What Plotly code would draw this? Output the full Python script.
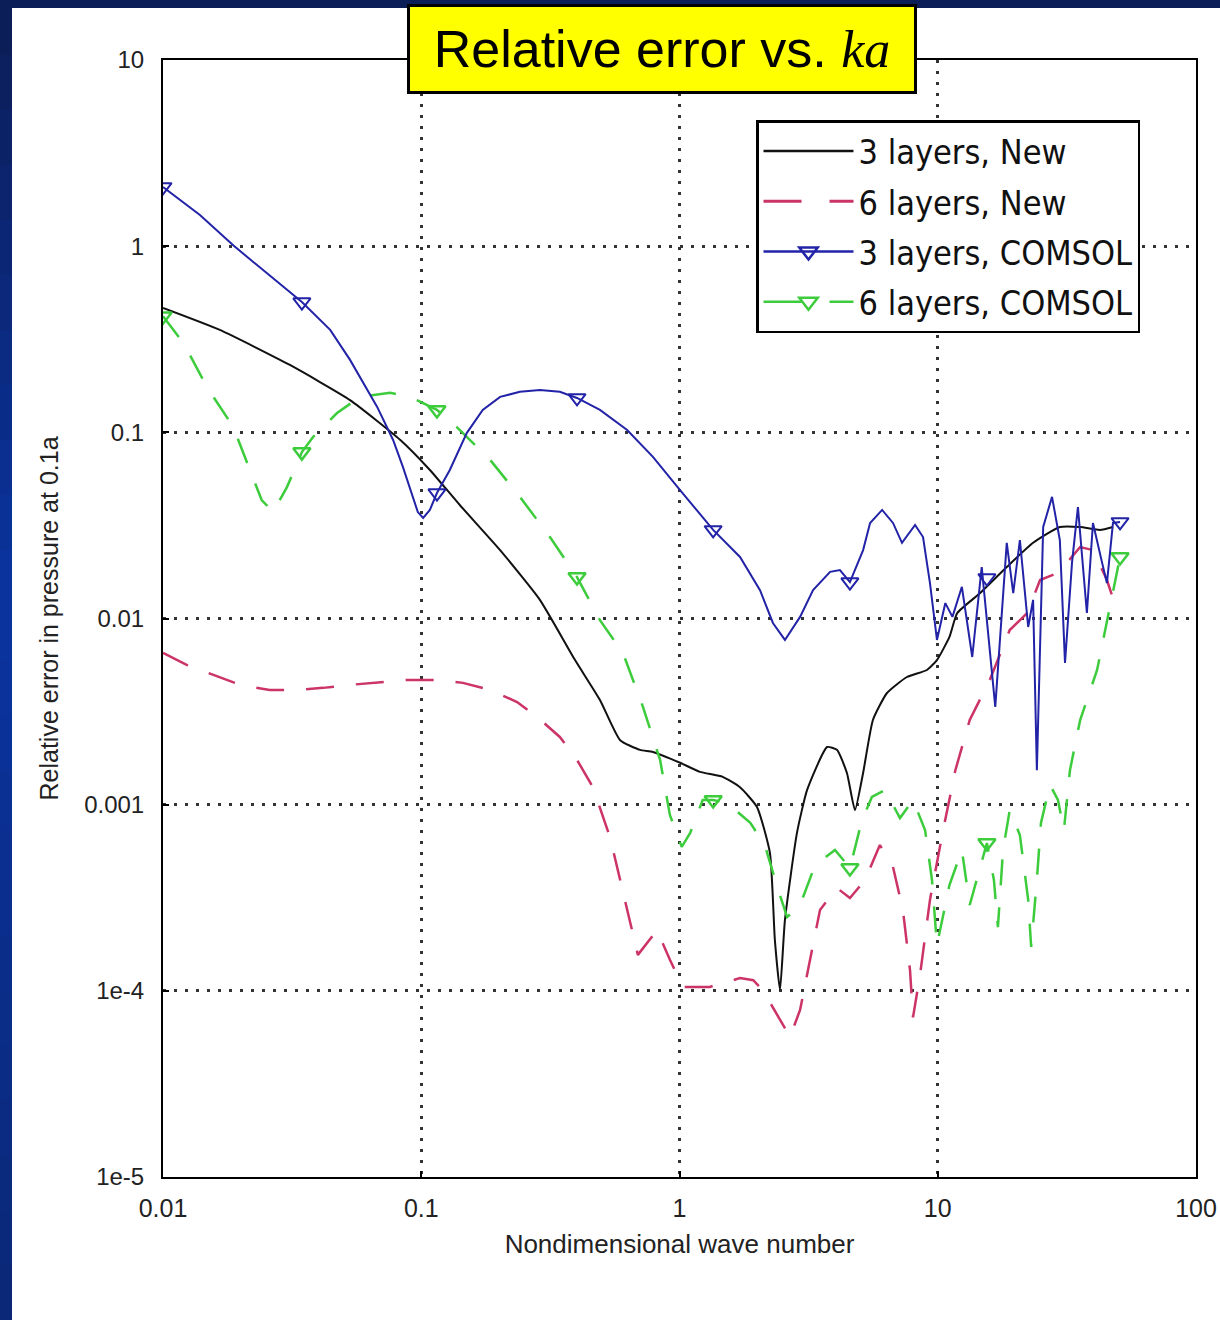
import plotly.graph_objects as go

# ---------------- data ----------------
black_x = [0.01, 0.0166, 0.031, 0.053, 0.083, 0.108, 0.141, 0.202, 0.288, 0.394, 0.492, 0.589, 0.703, 0.789,
           1.005, 1.2, 1.47, 1.715, 1.995, 2.24, 2.34, 2.45, 2.56, 2.85, 3.12, 3.73, 4.07, 4.45, 4.78, 5.14,
           5.61, 6.36, 7.6, 9.08, 9.93, 11.1, 11.9, 14.6, 18.5, 23.4, 29.7, 35.6, 42.5, 47.7]
black_y = [0.466, 0.355, 0.230, 0.149, 0.091, 0.0628, 0.0407, 0.0233, 0.0126, 0.00598, 0.00365, 0.00222,
           0.00197, 0.00192, 0.00168, 0.00150, 0.00141, 0.00124, 0.000972, 0.00055, 0.000188, 0.000101,
           0.00024, 0.000705, 0.0012, 0.00204, 0.00197, 0.00148, 0.000935, 0.00148, 0.00285, 0.00398,
           0.00485, 0.00529, 0.00598, 0.00796, 0.0107, 0.0137, 0.0189, 0.0255, 0.031, 0.031, 0.0299, 0.031]

red_x = [0.01, 0.0124, 0.0199, 0.0259, 0.033, 0.0417, 0.053, 0.0711, 0.0881, 0.115, 0.145, 0.185, 0.235,
         0.281, 0.344, 0.401, 0.462, 0.538, 0.615, 0.69, 0.818, 0.918, 1.03, 1.31, 1.715, 1.93, 2.10, 2.39,
         2.68, 2.93, 3.26, 3.50, 4.07, 4.57, 5.23, 5.97, 6.71, 7.33, 7.81, 8.02, 8.54, 9.33, 10.4, 11.7,
         13.3, 15.9, 19.0, 22.2, 24.9, 29.0, 31.6, 35.6, 39.9, 45.2, 49.4]
red_y = [0.00653, 0.00562, 0.0044, 0.00413, 0.00413, 0.00424, 0.0044, 0.00456, 0.00468, 0.00468, 0.00451,
         0.00413, 0.00356, 0.00296, 0.00231, 0.00174, 0.00124, 0.00067, 0.000308, 0.000156, 0.000212,
         0.000147, 0.000105, 0.000105, 0.000117, 0.000114, 0.000101, 7.4e-5, 5.65e-5, 7.9e-5, 0.000166,
         0.000272, 0.000357, 0.000315, 0.000394, 0.000607, 0.000463, 0.000272, 0.000129, 7.2e-5, 0.000122,
         0.000308, 0.000687, 0.00153, 0.00285, 0.00468, 0.00867, 0.0107, 0.0161, 0.0175, 0.0199, 0.0242,
         0.0233, 0.0161, 0.0111]

blue_x = [0.01, 0.0139, 0.0187, 0.0248, 0.0345, 0.0444, 0.053, 0.0675, 0.0778, 0.0849, 0.092, 0.097, 0.1017,
          0.108, 0.115, 0.129, 0.150, 0.173, 0.202, 0.241, 0.288, 0.344, 0.401, 0.492, 0.627, 0.789, 1.005,
          1.35, 1.715, 2.05, 2.30, 2.56, 2.93, 3.29, 3.83, 4.18, 4.57, 5.14, 5.47, 6.09, 6.71, 7.27, 8.17,
          8.77, 9.33, 9.93, 10.7, 11.4, 12.4, 13.6, 14.8, 16.7, 18.5, 19.6, 20.8, 22.4, 23.4, 24.2, 25.6,
          27.7, 29.7, 31.1, 33.1, 34.9, 37.8, 39.9, 43.3, 45.2, 47.7, 50.8]
blue_y = [2.08, 1.47, 1.01, 0.727, 0.501, 0.355, 0.245, 0.137, 0.091, 0.0652, 0.046, 0.0373, 0.0347, 0.0383,
          0.0472, 0.0628, 0.0991, 0.132, 0.155, 0.165, 0.169, 0.165, 0.153, 0.132, 0.103, 0.0738, 0.049,
          0.0299, 0.0214, 0.0142, 0.00946, 0.00767, 0.0102, 0.0142, 0.0178, 0.0182, 0.0157, 0.0233, 0.0326,
          0.0383, 0.0326, 0.0255, 0.0318, 0.0274, 0.0155, 0.00767, 0.0121, 0.0102, 0.0148, 0.00621, 0.0189,
          0.00335, 0.0255, 0.0137, 0.0264, 0.009, 0.0126, 0.00153, 0.031, 0.045, 0.0264, 0.00577, 0.0199,
          0.0397, 0.0107, 0.0326, 0.0199, 0.0155, 0.0326, 0.033]

green_x = [0.01, 0.012, 0.0148, 0.0187, 0.0217, 0.0241, 0.0267, 0.0302, 0.0345, 0.0381, 0.0472, 0.0579,
           0.0757, 0.0904, 0.115, 0.137, 0.185, 0.241, 0.315, 0.401, 0.492, 0.604, 0.722, 0.841, 0.918, 1.02,
           1.10, 1.23, 1.35, 1.53, 1.88, 2.14, 2.39, 2.61, 2.93, 3.35, 4.00, 4.57, 5.09, 5.56, 6.25, 7.14,
           8.02, 8.93, 9.50, 9.93, 11.1, 12.4, 13.3, 14.3, 15.5, 16.5, 17.1, 17.9, 19.0, 20.8, 22.4, 23.0,
           24.2, 25.1, 27.2, 29.2, 30.8, 32.5, 35.6, 41.4, 45.6, 50.8]
green_y = [0.42, 0.302, 0.175, 0.107, 0.0628, 0.0433, 0.0373, 0.0508, 0.0783, 0.0944, 0.127, 0.155, 0.163,
           0.155, 0.132, 0.107, 0.071, 0.045, 0.0274, 0.0167, 0.0098, 0.00653, 0.00335, 0.00174, 0.00088,
           0.000593, 0.000705, 0.00106, 0.00106, 0.00102, 0.000798, 0.000607, 0.000361, 0.000249, 0.000289,
           0.000474, 0.000571, 0.000457, 0.000828, 0.0011, 0.0012, 0.000847, 0.00106, 0.000731, 0.000394,
           0.000176, 0.00037, 0.000571, 0.000289, 0.000419, 0.000622, 0.000394, 0.00022, 0.000571, 0.000935,
           0.000687, 0.000308, 0.000172, 0.000394, 0.000798, 0.00128, 0.00106, 0.000731, 0.00153, 0.00285,
           0.00529, 0.0104, 0.0214]

marker_x = [0.01, 0.0345, 0.115, 0.401, 1.35, 4.57, 15.5, 50.8]
blue_marker_y = [2.08, 0.501, 0.0472, 0.153, 0.0299, 0.0157, 0.0165, 0.033]
green_marker_y = [0.42, 0.0783, 0.132, 0.0167, 0.00106, 0.000457, 0.000622, 0.0214]

series_names = ["3 layers, New", "6 layers, New", "3 layers, COMSOL", "6 layers, COMSOL"]
x_tickvals = [0.01, 0.1, 1, 10, 100]
x_ticktext = ["0.01", "0.1", "1", "10", "100"]
y_tickvals = [1e-5, 1e-4, 1e-3, 1e-2, 1e-1, 1, 10]
y_ticktext = ["1e-5", "1e-4", "0.001", "0.01", "0.1", "1", "10"]

# ---------------- styles ----------------
BLACK = "#111111"
RED = "#cc3366"
BLUE = "#2323a8"
GREEN = "#3ccc3c"
RED_DASH = "28px,22px"
GREEN_DASH = "26px,22px"

W, H = 1220, 1320
ML, MR, MT, MB = 163, 24, 60, 143
PW, PH = W - ML - MR, H - MT - MB


def px2x(px):
    return (px - ML) / PW


def px2y(py):
    return (H - MB - py) / PH


fig = go.Figure()

# curves
fig.add_trace(go.Scatter(x=black_x, y=black_y, mode="lines", showlegend=False,
                         line=dict(color=BLACK, width=2, shape="spline", smoothing=0.5)))
fig.add_trace(go.Scatter(x=red_x, y=red_y, mode="lines", showlegend=False,
                         line=dict(color=RED, width=2.5, dash=RED_DASH)))
fig.add_trace(go.Scatter(x=green_x, y=green_y, mode="lines", showlegend=False,
                         line=dict(color=GREEN, width=2.5, dash=GREEN_DASH)))
fig.add_trace(go.Scatter(x=marker_x, y=green_marker_y, mode="markers", showlegend=False,
                         marker=dict(symbol="triangle-down-open", size=15, color=GREEN, line=dict(width=2.5))))
fig.add_trace(go.Scatter(x=blue_x, y=blue_y, mode="lines", showlegend=False,
                         line=dict(color=BLUE, width=2)))
fig.add_trace(go.Scatter(x=marker_x, y=blue_marker_y, mode="markers", showlegend=False,
                         marker=dict(symbol="triangle-down-open", size=15, color=BLUE, line=dict(width=2))))

# legend entries
legend_specs = [
    dict(mode="lines", line=dict(color=BLACK, width=2.5)),
    dict(mode="lines", line=dict(color=RED, width=3, dash="38px,28px")),
    dict(mode="lines+markers", line=dict(color=BLUE, width=2.5),
         marker=dict(symbol="triangle-down-open", size=18, color=BLUE, line=dict(width=2.5))),
    dict(mode="lines+markers", line=dict(color=GREEN, width=2.5, dash="38px,28px"),
         marker=dict(symbol="triangle-down-open", size=18, color=GREEN, line=dict(width=2.5))),
]
for i, (name, spec) in enumerate(zip(series_names, legend_specs)):
    fig.add_trace(go.Scatter(x=[None], y=[None], name=name, legendgroup=f"g{i}", showlegend=True, **spec))

# background: blue frame on the left and top
shapes = []
n_seg = 24
top_c = (13, 29, 85)
mid_c = (10, 52, 160)
bot_c = (11, 40, 118)
for k in range(n_seg):
    t = (k + 0.5) / n_seg
    if t < 0.45:
        f = t / 0.45
        c = [int(top_c[j] + (mid_c[j] - top_c[j]) * f) for j in range(3)]
    else:
        f = (t - 0.45) / 0.55
        c = [int(mid_c[j] + (bot_c[j] - mid_c[j]) * f) for j in range(3)]
    y0 = H * k / n_seg
    y1 = H * (k + 1) / n_seg + 1
    shapes.append(dict(type="rect", xref="paper", yref="paper", layer="below",
                       x0=px2x(0), x1=px2x(12), y0=px2y(y1), y1=px2y(y0),
                       fillcolor="rgb(%d,%d,%d)" % tuple(c), line=dict(width=0)))
shapes.append(dict(type="rect", xref="paper", yref="paper", layer="below",
                   x0=px2x(0), x1=px2x(W), y0=px2y(8), y1=px2y(0),
                   fillcolor="rgb(12,30,88)", line=dict(width=0)))

fig.update_layout(
    width=W, height=H,
    margin=dict(l=ML, r=MR, t=MT, b=MB, autoexpand=False),
    paper_bgcolor="white", plot_bgcolor="white",
    font=dict(family="Liberation Sans, Arial, sans-serif", color="#222222"),
    shapes=shapes,
    legend=dict(x=px2x(756), y=px2y(120), xanchor="left", yanchor="top",
                bgcolor="white", bordercolor="black", borderwidth=2.5,
                font=dict(family="DejaVu Sans Condensed, Liberation Sans Narrow, Liberation Sans", size=34,
                          color="#111111"),
                itemwidth=90, tracegroupgap=3, traceorder="grouped"),
    annotations=[dict(
        text="Relative error vs. <span style=\"font-family:'Liberation Serif','Times New Roman',serif;"
             "font-style:italic\">ka</span>",
        xref="paper", yref="paper", x=px2x(661.5), y=px2y(49), xanchor="center", yanchor="middle",
        showarrow=False, bgcolor="#ffff00", bordercolor="black", borderwidth=3, borderpad=2,
        width=500, height=80,
        font=dict(family="Liberation Sans, Arial, sans-serif", size=52, color="black"))],
)

fig.update_xaxes(type="log", range=[-2, 2], tickvals=x_tickvals, ticktext=x_ticktext,
                 showline=True, linecolor="black", linewidth=2, mirror=True,
                 showgrid=True, gridcolor="#333333", gridwidth=2.5, griddash="2.5px,8.5px",
                 ticks="inside", ticklen=6, tickcolor="black", tickwidth=2,
                 tickfont=dict(size=25, color="#222222"), ticklabelstandoff=8,
                 title=dict(text="Nondimensional wave number", font=dict(size=26, color="#222222"),
                            standoff=14),
                 zeroline=False)
fig.update_yaxes(type="log", range=[-5, 1], tickvals=y_tickvals, ticktext=y_ticktext,
                 showline=True, linecolor="black", linewidth=2, mirror=True,
                 showgrid=True, gridcolor="#333333", gridwidth=2.5, griddash="2.5px,8.5px",
                 ticks="inside", ticklen=6, tickcolor="black", tickwidth=2,
                 tickfont=dict(size=24, color="#222222"), ticklabelstandoff=12,
                 title=dict(text="Relative error in pressure at 0.1a", font=dict(size=25, color="#222222"),
                            standoff=18),
                 zeroline=False)

fig.write_html("out.html", config={"displayModeBar": False},
               post_script="document.body.style.margin='0';document.body.style.overflow='hidden';")
